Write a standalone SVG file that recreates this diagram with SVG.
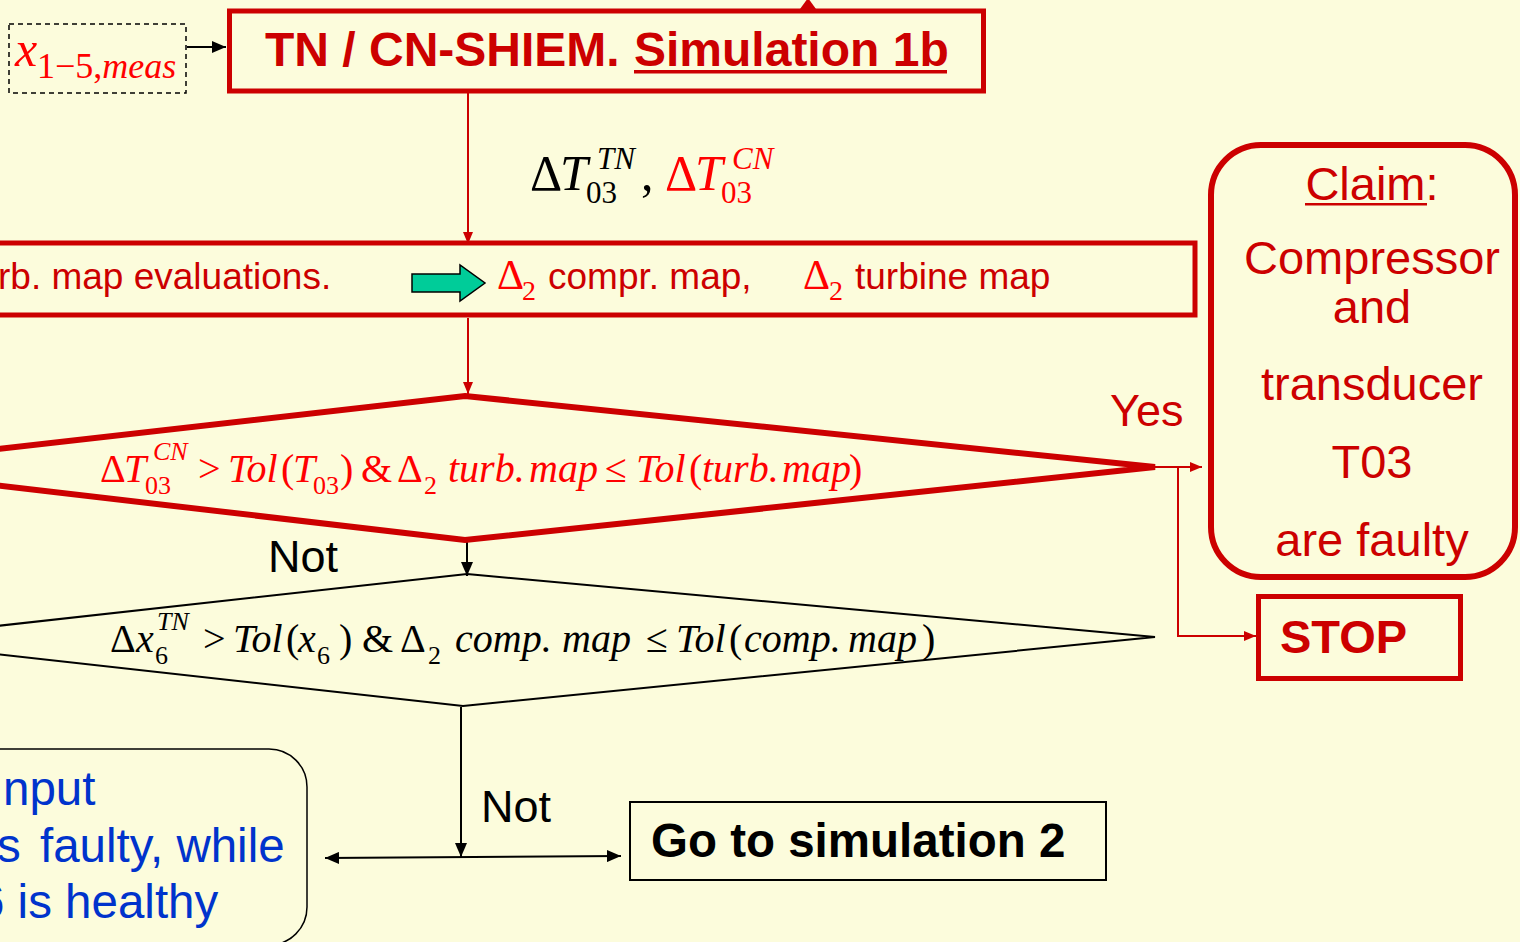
<svg xmlns="http://www.w3.org/2000/svg" width="1520" height="942" viewBox="0 0 1520 942">
<defs>
<style>
.sans{font-family:"Liberation Sans",Arial,sans-serif}
.b{font-weight:bold}
.ser{font-family:"Liberation Serif","Times New Roman",serif}
.it{font-style:italic}
.dr{fill:#CC0000}
.br{fill:#FF0000}
.bk{fill:#000000}
.bl{fill:#0033CC}
.rbox{fill:none;stroke:#CC0000}
.rline{fill:none;stroke:#CC0000;stroke-width:2}
.kline{fill:none;stroke:#000000;stroke-width:2}
</style>
<marker id="ar" viewBox="0 0 12 10" refX="12" refY="5" markerWidth="12" markerHeight="10" markerUnits="userSpaceOnUse" orient="auto">
<path d="M0,0 L12,5 L0,10 z" fill="#CC0000"/>
</marker>
<marker id="ak" viewBox="0 0 14 12" refX="14" refY="6" markerWidth="14" markerHeight="12" markerUnits="userSpaceOnUse" orient="auto-start-reverse">
<path d="M0,0 L14,6 L0,12 z" fill="#000000"/>
</marker>
</defs>
<rect x="0" y="0" width="1520" height="942" fill="#FCFCDC"/>

<g id="connectors">
<polygon points="800,9 816,9 808,-2" fill="#CC0000"/>
<line x1="187" y1="47" x2="226" y2="47" class="kline" marker-end="url(#ak)"/>
<line x1="468" y1="93" x2="468" y2="244" class="rline" marker-end="url(#ar)"/>
<line x1="468" y1="318" x2="468" y2="394" class="rline" marker-end="url(#ar)"/>
<line x1="1155" y1="467" x2="1202" y2="467" class="rline" marker-end="url(#ar)"/>
<polyline points="1178,467 1178,636 1256,636" class="rline" marker-end="url(#ar)"/>
<line x1="467" y1="542" x2="467" y2="576" class="kline" marker-end="url(#ak)"/>
<line x1="461" y1="707" x2="461" y2="857" class="kline" marker-end="url(#ak)"/>
<line x1="325" y1="858" x2="621" y2="856" class="kline" marker-start="url(#ak)" marker-end="url(#ak)"/>
</g>

<g id="input-meas">
<rect x="9" y="24" width="177" height="69" fill="none" stroke="#000" stroke-width="1.5" stroke-dasharray="5,4"/>
<text class="ser br" font-size="50" y="66"><tspan x="15" class="it">x</tspan></text>
<text class="ser br" font-size="36" y="78"><tspan x="37">1−5,</tspan><tspan class="it">meas</tspan></text>
</g>

<g id="title">
<rect x="229.5" y="11" width="754" height="80" class="rbox" stroke-width="5"/>
<text class="sans b dr" font-size="48" y="66"><tspan x="265">TN / CN-SHIEM. </tspan><tspan x="634">Simulation 1b</tspan></text>
<rect x="634" y="70" width="313" height="3.5" fill="#CC0000"/>
</g>

<g id="delta-t03">
<text class="ser" font-size="50" y="190"><tspan x="530" class="bk">Δ</tspan><tspan x="560" class="bk it">T</tspan><tspan x="641" class="bk">,</tspan><tspan x="665" class="br">Δ</tspan><tspan x="695" class="br it">T</tspan></text>
<text class="ser it" font-size="31" y="169"><tspan x="597" class="bk">TN</tspan><tspan x="732" class="br">CN</tspan></text>
<text class="ser" font-size="31" y="203"><tspan x="586" class="bk">03</tspan><tspan x="721" class="br">03</tspan></text>
</g>

<g id="map-evaluations">
<rect x="-10" y="243" width="1205" height="72" class="rbox" stroke-width="5"/>
<text class="sans dr" font-size="37" y="289"><tspan x="-2">rb. map evaluations.</tspan><tspan x="548">compr. map,</tspan><tspan x="855">turbine map</tspan></text>
<polygon points="412,274 460,274 460,265 485,283 460,301 460,292 412,292" fill="#00CC99" stroke="#000" stroke-width="1.5"/>
<text class="ser br" font-size="42" y="289"><tspan x="497">Δ</tspan><tspan x="803">Δ</tspan></text>
<text class="ser br" font-size="28" y="300"><tspan x="522">2</tspan><tspan x="829">2</tspan></text>
</g>

<g id="decision-1">
<polygon points="465,396 1155,467 465,540 -160,467" fill="none" stroke="#CC0000" stroke-width="6" stroke-linejoin="miter"/>
<text class="ser br" font-size="40" y="482"><tspan x="100">Δ</tspan><tspan x="124" class="it">T</tspan><tspan x="198">&gt;</tspan><tspan x="228" class="it">Tol</tspan><tspan x="281">(</tspan><tspan x="293" class="it">T</tspan><tspan x="340">)</tspan><tspan x="361">&amp;</tspan><tspan x="397">Δ</tspan><tspan x="448" class="it">turb.</tspan><tspan x="529" class="it">map</tspan><tspan x="605">≤</tspan><tspan x="636" class="it">Tol</tspan><tspan x="689">(</tspan><tspan x="702" class="it">turb.</tspan><tspan x="782" class="it">map</tspan><tspan x="849">)</tspan></text>
<text class="ser br it" font-size="26" y="460"><tspan x="153">CN</tspan></text>
<text class="ser br" font-size="26" y="494"><tspan x="145">03</tspan><tspan x="313">03</tspan><tspan x="424">2</tspan></text>
</g>

<g id="label-not-1">
<text class="sans bk" font-size="45" x="268" y="572">Not</text>
</g>

<g id="decision-2">
<polygon points="467,574 1155,637 463,706 -130,640" fill="none" stroke="#000" stroke-width="2"/>
<text class="ser bk" font-size="40" y="652"><tspan x="110">Δ</tspan><tspan x="136" class="it">x</tspan><tspan x="203">&gt;</tspan><tspan x="233" class="it">Tol</tspan><tspan x="286">(</tspan><tspan x="298" class="it">x</tspan><tspan x="339">)</tspan><tspan x="362">&amp;</tspan><tspan x="400">Δ</tspan><tspan x="455" class="it">comp.</tspan><tspan x="562" class="it">map</tspan><tspan x="646">≤</tspan><tspan x="676" class="it">Tol</tspan><tspan x="729">(</tspan><tspan x="744" class="it">comp.</tspan><tspan x="848" class="it">map</tspan><tspan x="922">)</tspan></text>
<text class="ser bk it" font-size="26" y="630"><tspan x="157">TN</tspan></text>
<text class="ser bk" font-size="26" y="664"><tspan x="155">6</tspan><tspan x="317">6</tspan><tspan x="428">2</tspan></text>
</g>

<g id="label-yes">
<text class="sans dr" font-size="45" x="1110" y="426">Yes</text>
</g>

<g id="claim">
<rect x="1211" y="145" width="304" height="432" rx="50" ry="50" class="rbox" stroke-width="6"/>
<g class="sans dr" font-size="47" text-anchor="middle">
<text x="1372" y="200"><tspan>Claim</tspan><tspan>:</tspan></text>
<text x="1372" y="274">Compressor</text>
<text x="1372" y="323">and</text>
<text x="1372" y="400">transducer</text>
<text x="1372" y="478">T03</text>
<text x="1372" y="556">are faulty</text>
</g>
<rect x="1305" y="203" width="122" height="2.5" fill="#CC0000"/>
</g>

<g id="stop">
<rect x="1258.5" y="596.5" width="202" height="82" class="rbox" stroke-width="5"/>
<text class="sans b dr" font-size="47" x="1280" y="653">STOP</text>
</g>

<g id="label-not-2">
<text class="sans bk" font-size="45" x="481" y="822">Not</text>
</g>

<g id="go-sim2">
<rect x="630" y="802" width="476" height="78" fill="none" stroke="#000" stroke-width="2"/>
<text class="sans b bk" font-size="47.5" x="651" y="857">Go to simulation 2</text>
</g>

<g id="conclusion">
<rect x="-60" y="749" width="367" height="196" rx="38" ry="38" fill="none" stroke="#000" stroke-width="1.5"/>
<g class="sans bl" font-size="47.5">
<text x="3" y="805">nput</text>
<text y="862"><tspan x="-3">s</tspan><tspan x="40">faulty, while</tspan></text>
<text x="-22" y="918">6 is healthy</text>
</g>
</g>
</svg>
